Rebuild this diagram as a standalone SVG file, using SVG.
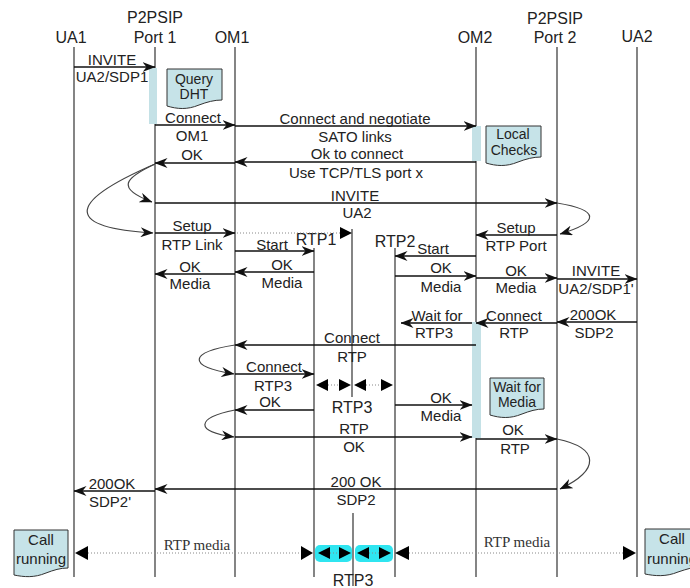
<svg xmlns="http://www.w3.org/2000/svg" width="690" height="588" viewBox="0 0 690 588">
<defs>
<style>
text{font-family:"Liberation Sans",Arial,sans-serif;fill:#222;text-anchor:middle}
.h{font-size:16px}
.l{font-size:15px}
.n{font-size:14px}
.s{font-family:"Liberation Serif","Times New Roman",serif;font-size:15px;fill:#333}
.life{stroke:#333;stroke-width:1.2;fill:none}
.msg{stroke:#111;stroke-width:1.3;fill:none;marker-end:url(#ah)}
.crv{stroke:#444;stroke-width:1.2;fill:none;marker-end:url(#ah)}
.dot{stroke:#888;stroke-width:1;stroke-dasharray:1,2;fill:none}
.bar{fill:#c4e1e6;stroke:none}
.note{fill:#c6e3e8;stroke:#333;stroke-width:1}
.tri{fill:#000}
.cy{fill:#2fe5f0}
</style>
<marker id="ah" viewBox="0 0 13 10" refX="12.5" refY="5" markerWidth="13" markerHeight="10" markerUnits="userSpaceOnUse" orient="auto"><path d="M0,0 L13,5 L0,10 L4,5 Z" fill="#111"/></marker>
</defs>

<g id="headers">
<text class="h" x="71" y="43">UA1</text>
<text class="h" x="155" y="23">P2PSIP</text>
<text class="h" x="155" y="43">Port 1</text>
<text class="h" x="232" y="43">OM1</text>
<text class="h" x="475" y="43">OM2</text>
<text class="h" x="555" y="24">P2PSIP</text>
<text class="h" x="555" y="43">Port 2</text>
<text class="h" x="637" y="42">UA2</text>
</g>

<g id="lifelines">
<line class="life" x1="74" y1="47" x2="74" y2="577"/>
<line class="life" x1="155" y1="47" x2="155" y2="577"/>
<line class="life" x1="235" y1="47" x2="235" y2="577"/>
<line class="life" x1="476" y1="47" x2="476" y2="577"/>
<line class="life" x1="557" y1="47" x2="557" y2="577"/>
<line class="life" x1="637" y1="47" x2="637" y2="577"/>
<line class="life" x1="314" y1="248" x2="314" y2="577"/>
<line class="life" x1="395" y1="248" x2="395" y2="577"/>
<line class="life" x1="352" y1="229" x2="352" y2="397"/>
<line class="life" x1="353" y1="513" x2="353" y2="586"/>
</g>

<g id="bars">
<rect class="bar" x="149" y="68" width="8" height="56"/>
<rect class="bar" x="472" y="126" width="9" height="35"/>
<rect class="bar" x="472" y="322" width="9" height="116"/>
</g>

<g id="rtp-labels">
<text class="h" x="316" y="245">RTP1</text>
<text class="h" x="395" y="247">RTP2</text>
<text class="h" x="352" y="413">RTP3</text>
<text class="h" x="353" y="586">RTP3</text>
</g>

<g id="note-query-dht">
<path class="note" transform="translate(167,69)" d="M0,0 H55 V31 C47,31 40,33 32,36 C20,41 10,40 0,37 Z"/>
<text class="n" x="194" y="84">Query</text>
<text class="n" x="194" y="99">DHT</text>
</g>
<g id="note-local-checks">
<path class="note" transform="translate(486,126)" d="M0,0 H55 V31 C47,31 40,33 32,36 C20,41 10,40 0,37 Z"/>
<text class="n" x="513" y="139">Local</text>
<text class="n" x="514" y="155">Checks</text>
</g>
<g id="note-wait-media">
<path class="note" transform="translate(490,378)" d="M0,0 H54 V31 C46,31 40,33 32,36 C20,41 10,40 0,37 Z"/>
<text class="n" x="517" y="392">Wait for</text>
<text class="n" x="517" y="407">Media</text>
</g>
<g id="note-call-left">
<path class="note" transform="translate(14,530)" d="M0,0 H54 V38 C46,38 40,40 32,43 C20,48 10,47 0,45 Z"/>
<text class="l" x="41" y="545">Call</text>
<text class="l" x="41" y="564">running</text>
</g>
<g id="note-call-right">
<path class="note" transform="translate(645,529)" d="M0,0 H56 V38 C48,38 42,40 33,43 C21,48 10,47 0,45 Z"/>
<text class="l" x="672" y="544">Call</text>
<text class="l" x="672" y="564">running</text>
</g>

<g id="connectors">
<line class="msg" x1="74" y1="67" x2="155" y2="67"/>
<line class="msg" x1="155" y1="125" x2="235" y2="125"/>
<line class="msg" x1="235" y1="126" x2="476" y2="126"/>
<line class="msg" x1="476" y1="162" x2="235" y2="162"/>
<line class="msg" x1="235" y1="163" x2="155" y2="163"/>
<path class="crv" d="M155,164 C125,178 115,188 152,202"/>
<path class="crv" d="M155,164 C60,205 70,228 153,233"/>
<line class="msg" x1="155" y1="203" x2="557" y2="203"/>
<path class="crv" d="M557,203 C600,210 600,222 560,234"/>
<line class="msg" x1="155" y1="233" x2="235" y2="233"/>
<line class="dot" x1="237" y1="233" x2="340" y2="233"/>
<polygon class="tri" points="340,227 352,233 340,239"/>
<line class="msg" x1="557" y1="235" x2="476" y2="235"/>
<line class="msg" x1="235" y1="251" x2="314" y2="251"/>
<line class="msg" x1="476" y1="256" x2="395" y2="256"/>
<line class="msg" x1="314" y1="272" x2="235" y2="272"/>
<line class="msg" x1="235" y1="274" x2="155" y2="274"/>
<line class="msg" x1="395" y1="276" x2="476" y2="276"/>
<line class="msg" x1="476" y1="278" x2="557" y2="278"/>
<line class="msg" x1="557" y1="279" x2="637" y2="279"/>
<line class="msg" x1="637" y1="322" x2="557" y2="322"/>
<line class="msg" x1="557" y1="323" x2="476" y2="323"/>
<line class="msg" x1="472" y1="323" x2="401" y2="323"/>
<line class="msg" x1="476" y1="345" x2="235" y2="345"/>
<path class="crv" d="M235,345 C190,352 185,366 234,374"/>
<line class="msg" x1="235" y1="374" x2="314" y2="374"/>
<polygon class="tri" points="316,385 328,379 328,391"/>
<line class="dot" x1="328" y1="385" x2="339" y2="385"/>
<polygon class="tri" points="339,379 351,385 339,391"/>
<polygon class="tri" points="354,385 366,379 366,391"/>
<line class="dot" x1="366" y1="385" x2="381" y2="385"/>
<polygon class="tri" points="381,379 393,385 381,391"/>
<line class="msg" x1="314" y1="410" x2="235" y2="410"/>
<path class="crv" d="M235,410 C195,418 195,432 234,437"/>
<line class="msg" x1="395" y1="405" x2="472" y2="405"/>
<line class="msg" x1="235" y1="437" x2="472" y2="437"/>
<line class="msg" x1="476" y1="439" x2="557" y2="439"/>
<path class="crv" d="M557,439 C600,448 600,470 560,489"/>
<line class="msg" x1="557" y1="489" x2="155" y2="489"/>
<line class="msg" x1="155" y1="491" x2="74" y2="491"/>
<polygon class="tri" points="75,553 88,546 88,560"/>
<line class="dot" x1="88" y1="553" x2="301" y2="553"/>
<polygon class="tri" points="301,546 313,553 301,560"/>
<rect class="cy" x="315" y="545" width="37" height="17" rx="5"/>
<polygon class="tri" points="318,553 330,547 330,559"/>
<line class="dot" x1="330" y1="553" x2="339" y2="553"/>
<polygon class="tri" points="339,547 351,553 339,559"/>
<rect class="cy" x="355" y="545" width="38" height="17" rx="5"/>
<polygon class="tri" points="357,553 369,547 369,559"/>
<line class="dot" x1="369" y1="553" x2="379" y2="553"/>
<polygon class="tri" points="379,547 391,553 379,559"/>
<polygon class="tri" points="395,553 409,546 409,560"/>
<line class="dot" x1="409" y1="553" x2="623" y2="553"/>
<polygon class="tri" points="623,546 636,553 623,560"/>
</g>

<g id="labels">
<text class="l" x="112" y="65">INVITE</text>
<text class="l" x="112" y="82">UA2/SDP1</text>
<text class="l" x="193" y="123">Connect</text>
<text class="l" x="192" y="141">OM1</text>
<text class="l" x="355" y="124">Connect and negotiate</text>
<text class="l" x="355" y="142">SATO links</text>
<text class="l" x="357" y="159">Ok to connect</text>
<text class="l" x="356" y="178">Use TCP/TLS port x</text>
<text class="l" x="192" y="160">OK</text>
<text class="l" x="355" y="201">INVITE</text>
<text class="l" x="357" y="218">UA2</text>
<text class="l" x="192" y="231">Setup</text>
<text class="l" x="192" y="250">RTP Link</text>
<text class="l" x="516" y="233">Setup</text>
<text class="l" x="516" y="251">RTP Port</text>
<text class="l" x="272" y="250">Start</text>
<text class="l" x="433" y="254">Start</text>
<text class="l" x="282" y="270">OK</text>
<text class="l" x="282" y="288">Media</text>
<text class="l" x="190" y="272">OK</text>
<text class="l" x="190" y="289">Media</text>
<text class="l" x="441" y="273">OK</text>
<text class="l" x="441" y="292">Media</text>
<text class="l" x="516" y="276">OK</text>
<text class="l" x="516" y="293">Media</text>
<text class="l" x="596" y="276">INVITE</text>
<text class="l" x="596" y="294">UA2/SDP1'</text>
<text class="l" x="593" y="320">200OK</text>
<text class="l" x="594" y="338">SDP2</text>
<text class="l" x="514" y="321">Connect</text>
<text class="l" x="514" y="338">RTP</text>
<text class="l" x="437" y="321">Wait for</text>
<text class="l" x="434" y="338">RTP3</text>
<text class="l" x="352" y="343">Connect</text>
<text class="l" x="352" y="362">RTP</text>
<text class="l" x="274" y="372">Connect</text>
<text class="l" x="273" y="391">RTP3</text>
<text class="l" x="270" y="407">OK</text>
<text class="l" x="441" y="403">OK</text>
<text class="l" x="441" y="421">Media</text>
<text class="l" x="354" y="434">RTP</text>
<text class="l" x="354" y="452">OK</text>
<text class="l" x="513" y="435">OK</text>
<text class="l" x="515" y="454">RTP</text>
<text class="l" x="356" y="487">200 OK</text>
<text class="l" x="356" y="505">SDP2</text>
<text class="l" x="112" y="489">200OK</text>
<text class="l" x="110" y="507">SDP2'</text>
<text class="s" x="197" y="550">RTP media</text>
<text class="s" x="517" y="547">RTP media</text>
</g>
</svg>
